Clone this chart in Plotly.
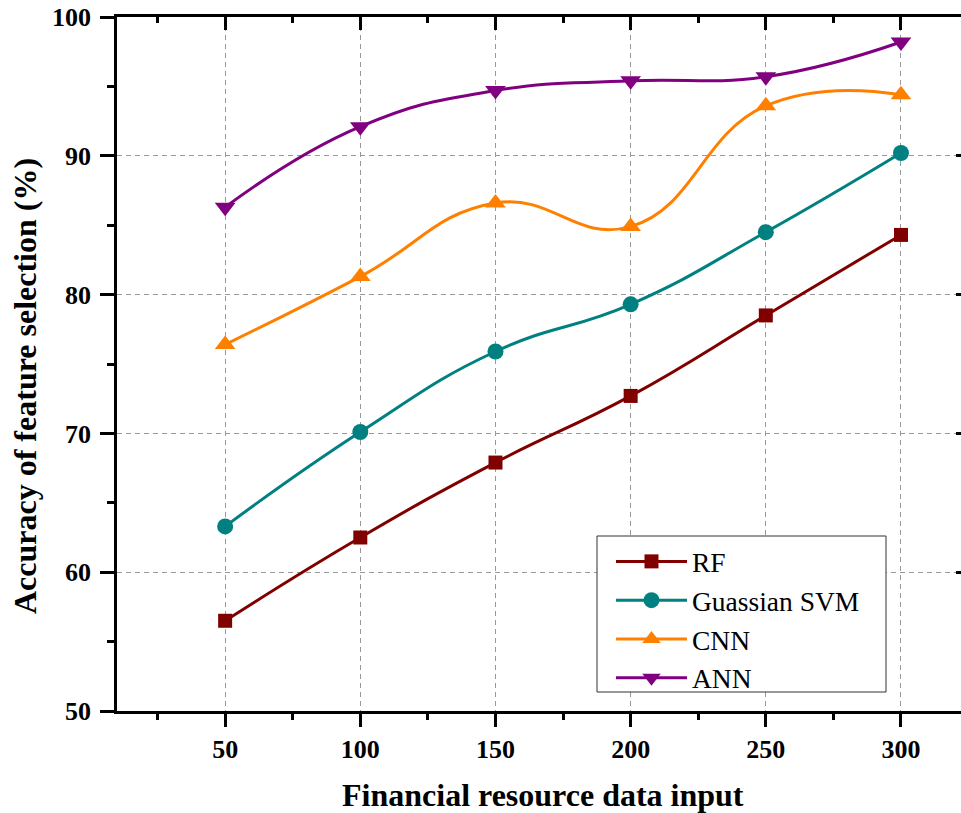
import plotly.graph_objects as go

x_vals = [50, 100, 150, 200, 250, 300]
rf = [56.5, 62.5, 67.9, 72.7, 78.5, 84.3]
svm = [63.3, 70.1, 75.9, 79.3, 84.5, 90.2]
cnn = [76.4, 81.3, 86.6, 84.9, 93.6, 94.4]
ann = [86.3, 92.1, 94.7, 95.4, 95.7, 98.2]
names = ["RF", "Guassian SVM", "CNN", "ANN"]
x_ticks = [50, 100, 150, 200, 250, 300]
y_ticks = [50, 60, 70, 80, 90, 100]

colors = ["#800000", "#008080", "#FF8000", "#800080"]
symbols = ["square", "circle", "triangle-up", "triangle-down"]
sizes = [14, 16, 18, 18]

SERIF = "Liberation Serif"
X_RANGE = [10, 322.2]
Y_RANGE = [50, 100]
PL, PR, PT, PB = 117, 961, 17, 711


def px_x(p):
    return (p - PL) / (PR - PL)


def px_y(p):
    return (PB - p) / (PB - PT)


fig = go.Figure()
for name, ys, c, s, sz in zip(names, [rf, svm, cnn, ann], colors, symbols, sizes):
    fig.add_trace(go.Scatter(
        x=x_vals, y=ys, name=name, mode="lines+markers",
        line=dict(color=c, width=3, shape="spline", smoothing=1.3),
        marker=dict(symbol=s, size=sz, color=c, line=dict(width=0)),
    ))
# invisible helpers to activate mirrored axes
fig.add_trace(go.Scatter(x=[None], y=[None], xaxis="x2", yaxis="y", showlegend=False, hoverinfo="skip"))
fig.add_trace(go.Scatter(x=[None], y=[None], xaxis="x", yaxis="y2", showlegend=False, hoverinfo="skip"))

tickfont = dict(family=SERIF, size=26, color="black", weight="bold")
grid = dict(showgrid=True, gridcolor="#999999", gridwidth=1, griddash="5px,4px")

fig.update_layout(
    width=961, height=813,
    margin=dict(l=PL, r=961 - PR, t=PT, b=813 - PB),
    paper_bgcolor="white", plot_bgcolor="white",
    font=dict(family=SERIF, color="black"),
    xaxis=dict(
        range=X_RANGE, tickvals=x_ticks, ticks="outside", ticklen=13, tickwidth=2.5,
        tickcolor="black", showline=True, linewidth=2.5, linecolor="black",
        tickfont=tickfont, zeroline=False,
        minor=dict(tickvals=[25, 75, 125, 175, 225, 275, 325], ticks="outside", ticklen=6,
                   tickwidth=2.5, tickcolor="black", showgrid=False),
        **grid,
    ),
    xaxis2=dict(
        range=X_RANGE, overlaying="x", side="top", anchor="y", tickvals=x_ticks,
        ticks="inside", ticklen=13, tickwidth=2.5, tickcolor="black",
        showline=True, linewidth=2.5, linecolor="black", showticklabels=False,
        showgrid=False, zeroline=False,
        minor=dict(tickvals=[25, 75, 125, 175, 225, 275, 325], ticks="inside", ticklen=6,
                   tickwidth=2.5, tickcolor="black", showgrid=False),
    ),
    yaxis=dict(
        range=Y_RANGE, tickvals=y_ticks, ticks="outside", ticklen=14, tickwidth=2.5,
        tickcolor="black", showline=True, linewidth=2.5, linecolor="black",
        tickfont=tickfont, zeroline=False, ticklabelstandoff=4,
        minor=dict(tickvals=[55, 65, 75, 85, 95], ticks="outside", ticklen=7,
                   tickwidth=2.5, tickcolor="black", showgrid=False),
        **grid,
    ),
    yaxis2=dict(
        range=Y_RANGE, overlaying="y", side="right", anchor="x", tickvals=y_ticks,
        ticks="inside", ticklen=5, tickwidth=2.5, tickcolor="black",
        showline=False, showticklabels=False, showgrid=False, zeroline=False,
    ),
    legend=dict(
        x=px_x(611), y=px_y(537), xanchor="left", yanchor="top",
        bgcolor="rgba(0,0,0,0)", borderwidth=0,
        font=dict(family=SERIF, size=27.5, color="black"),
        itemwidth=71, tracegroupgap=0,
    ),
    showlegend=True,
    shapes=[
        dict(type="rect", xref="paper", yref="paper", layer="above",
             x0=px_x(597), x1=px_x(886), y0=px_y(692), y1=px_y(536),
             fillcolor="white", line=dict(color="#333333", width=1)),
    ],
    annotations=[
        dict(text="<b>Financial resource data input</b>", xref="paper", yref="paper",
             x=px_x(543), y=px_y(795), xanchor="center", yanchor="middle",
             showarrow=False, font=dict(family=SERIF, size=32, color="black")),
        dict(text="<b>Accuracy of feature selection (%)</b>", xref="paper", yref="paper",
             x=px_x(25), y=px_y(386), xanchor="center", yanchor="middle",
             textangle=-90, showarrow=False, font=dict(family=SERIF, size=32, color="black")),
    ],
)

fig.write_html("out.html")
